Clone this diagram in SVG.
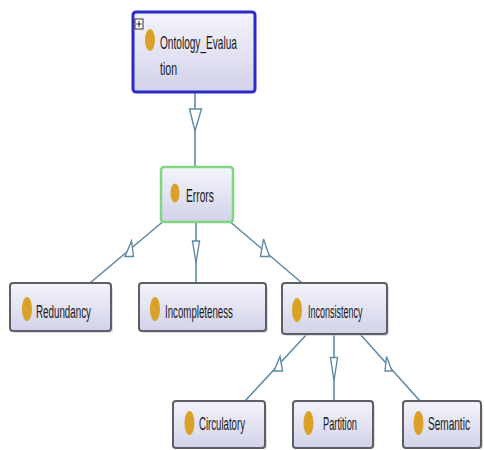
<svg xmlns="http://www.w3.org/2000/svg" width="484" height="450" viewBox="0 0 484 450">
  <defs>
    <linearGradient id="nodeFill" x1="0" y1="0" x2="0" y2="1">
      <stop offset="0" stop-color="#f4f4fb"/>
      <stop offset="1" stop-color="#d2d2ea"/>
    </linearGradient>
    <style>
      .box { fill: url(#nodeFill); stroke: #5e5e66; stroke-width: 2; }
      .shadow { fill: #c8c8d0; opacity: 0.6; }
      .root { stroke: #2b2bc8; stroke-width: 3; }
      .top { stroke: #7fd67f; stroke-width: 2.5; }
      .dot { fill: #d9a126; }
      .lbl { font-family: "Liberation Sans", Arial, sans-serif; font-size: 19px; fill: #1a1a1a; }
      .edge { stroke: #5f8ba6; stroke-width: 1.6; fill: none; }
      .head { stroke: #5f8ba6; stroke-width: 1.4; fill: #ffffff; stroke-linejoin: miter; }
      .plus { fill: #ffffff; stroke: #333; stroke-width: 1; }
    </style>
  </defs>

  <rect width="484" height="450" fill="#ffffff"/>

  <!-- connectors -->
  <g id="connectors">
    <line class="edge" x1="195" y1="92" x2="195" y2="167"/>
    <polygon class="head" points="189.5,109 201.5,109 195,131"/>

    <line class="edge" x1="166" y1="219" x2="90" y2="283"/>
    <polygon class="head" points="131.5,241 125,256.5 133.5,256.5"/>

    <line class="edge" x1="196" y1="222" x2="196" y2="283"/>
    <polygon class="head" points="192.5,241 199.5,241 196,263"/>

    <line class="edge" x1="228" y1="220" x2="302" y2="283"/>
    <polygon class="head" points="263.5,239 260.5,256.5 269.5,256.5"/>

    <line class="edge" x1="307" y1="334" x2="245" y2="401"/>
    <polygon class="head" points="280,356.5 274,371 282.5,371"/>

    <line class="edge" x1="334" y1="334" x2="334" y2="401"/>
    <polygon class="head" points="330.5,357.5 337.5,357.5 334,381"/>

    <line class="edge" x1="360" y1="334" x2="420" y2="401"/>
    <polygon class="head" points="386.5,356.5 385,371 392,371"/>
  </g>

  <!-- Ontology_Evaluation (labels are condensed horizontally) -->
  <g id="node-ontology-evaluation">
    <rect class="box root" x="133" y="12" width="122" height="80" rx="3"/>
    <rect class="plus" x="135" y="19" width="8" height="10"/>
    <path d="M136.5 24 H141.5 M139 21 V27" stroke="#222" stroke-width="1"/>
    <ellipse class="dot" cx="150" cy="40" rx="5" ry="11"/>
    <text class="lbl" transform="translate(160 49) scale(0.532 1)">Ontology_Evalua</text>
    <text class="lbl" transform="translate(160 75) scale(0.555 1)">tion</text>
  </g>

  <!-- Errors -->
  <g id="node-errors">
    <rect class="box top" x="161" y="167" width="72" height="55" rx="3"/>
    <ellipse class="dot" cx="175" cy="193" rx="4.5" ry="9.5"/>
    <text class="lbl" transform="translate(186 201.5) scale(0.54 1)">Errors</text>
  </g>

  <!-- Redundancy -->
  <g id="node-redundancy">
    <rect class="shadow" x="12" y="286" width="101" height="47" rx="3"/>
    <rect class="box" x="10" y="283" width="101" height="48" rx="3"/>
    <ellipse class="dot" cx="27" cy="309" rx="5" ry="12"/>
    <text class="lbl" transform="translate(36 318) scale(0.515 1)">Redundancy</text>
  </g>

  <!-- Incompleteness -->
  <g id="node-incompleteness">
    <rect class="shadow" x="141" y="286" width="127" height="47" rx="3"/>
    <rect class="box" x="139" y="283" width="127" height="48" rx="3"/>
    <ellipse class="dot" cx="155" cy="309" rx="5" ry="12"/>
    <text class="lbl" transform="translate(165 318) scale(0.511 1)">Incompleteness</text>
  </g>

  <!-- Inconsistency -->
  <g id="node-inconsistency">
    <rect class="shadow" x="284" y="286" width="105" height="50" rx="3"/>
    <rect class="box" x="282" y="283" width="105" height="51" rx="3"/>
    <ellipse class="dot" cx="297" cy="310" rx="5" ry="12"/>
    <text class="lbl" transform="translate(308 318) scale(0.473 1)">Inconsistency</text>
  </g>

  <!-- Circulatory -->
  <g id="node-circulatory">
    <rect class="shadow" x="175" y="404" width="92" height="45" rx="3"/>
    <rect class="box" x="173" y="401" width="92" height="47" rx="3"/>
    <ellipse class="dot" cx="189.5" cy="423" rx="5" ry="12"/>
    <text class="lbl" transform="translate(199 430) scale(0.507 1)">Circulatory</text>
  </g>

  <!-- Partition -->
  <g id="node-partition">
    <rect class="shadow" x="295" y="404" width="80" height="45" rx="3"/>
    <rect class="box" x="293" y="401" width="80" height="47" rx="3"/>
    <ellipse class="dot" cx="308.5" cy="423" rx="5" ry="12"/>
    <text class="lbl" transform="translate(323 430) scale(0.488 1)">Partition</text>
  </g>

  <!-- Semantic -->
  <g id="node-semantic">
    <rect class="shadow" x="405" y="404" width="78" height="45" rx="3"/>
    <rect class="box" x="403" y="401" width="78" height="47" rx="3"/>
    <ellipse class="dot" cx="418.5" cy="423" rx="5" ry="12"/>
    <text class="lbl" transform="translate(428 430) scale(0.53 1)">Semantic</text>
  </g>
</svg>
